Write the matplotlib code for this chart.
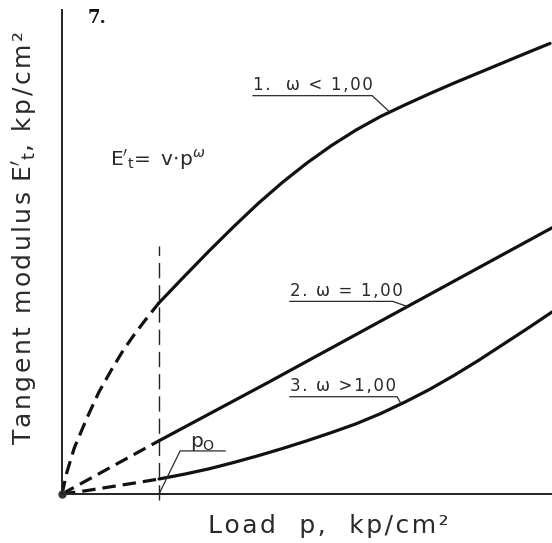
import numpy as np
import matplotlib
matplotlib.use("Agg")
import matplotlib.pyplot as plt

plt.rcParams['font.family'] = ['DejaVu Sans']
plt.rcParams['mathtext.fontset'] = 'dejavusans'

# ---- data (load p and tangent modulus, arbitrary units) ----
p0 = 1.98
curve1_p = [0.0, 0.1, 0.25, 0.5, 0.75, 1.0, 1.25, 1.5, 1.75, 1.98, 2.5, 3.0, 3.5, 4.0, 4.5,
            5.0, 5.5, 6.0, 6.5, 7.0, 7.5, 8.0, 8.5, 9.0, 9.5, 9.96]
curve1_E = [0.0, 0.45, 0.95, 1.55, 2.10, 2.55, 2.97, 3.33, 3.66, 3.95, 4.50, 5.02, 5.52, 6.00, 6.44,
            6.84, 7.20, 7.52, 7.80, 8.04, 8.27, 8.49, 8.70, 8.91, 9.12, 9.31]
curve2_p = [0.0, 1.98, 4.18, 8.53, 10.0]
curve2_E = [0.0, 1.10, 2.29, 4.69, 5.50]
curve3_p = [0.0, 0.5, 1.0, 1.5, 1.98, 2.5, 3.0, 3.5, 4.0, 4.5, 5.0, 5.5, 6.0, 6.5, 7.0,
            7.5, 8.0, 8.5, 9.0, 9.5, 10.0]
curve3_E = [0.0, 0.07, 0.15, 0.23, 0.31, 0.41, 0.52, 0.65, 0.79, 0.94, 1.10, 1.27, 1.45, 1.66, 1.90,
            2.16, 2.45, 2.76, 3.09, 3.42, 3.76]
labels = ["1.  ω < 1,00", "2. ω = 1,00", "3. ω >1,00"]
y_title = "Tangent modulus $\\mathregular{E}'_\\mathregular{t}$, kp/cm²"
x_title = "Load  p,  kp/cm²"


def spaced(s, sp):
    """Insert a narrow space between characters outside mathtext segments (letter spacing)."""
    parts = s.split('$')
    out = []
    for i, seg in enumerate(parts):
        if i % 2 == 0:
            out.append(sp.join(seg))
        else:
            out.append('$' + seg + '$')
    return ''.join(out)


fig = plt.figure(figsize=(5.52, 5.43), dpi=100)
ax = fig.add_axes([62/552, 49/543, 490/552, 484/543])
ax.set_xlim(0, 10)
ax.set_ylim(0, 10)
for s in ['top', 'right']:
    ax.spines[s].set_visible(False)
for s in ['left', 'bottom']:
    ax.spines[s].set_linewidth(1.4)
    ax.spines[s].set_color('#222222')
ax.set_xticks([])
ax.set_yticks([])

lw = 2.3
for cp, cE in [(curve1_p, curve1_E), (curve2_p, curve2_E), (curve3_p, curve3_E)]:
    cp = np.array(cp); cE = np.array(cE)
    m_d = cp <= p0 + 1e-9
    m_s = cp >= p0 - 1e-9
    l, = ax.plot(cp[m_d], cE[m_d], color='#111111', lw=lw, solid_capstyle='butt')
    l.set_dashes((4.2, 2.2))
    ax.plot(cp[m_s], cE[m_s], color='#111111', lw=lw, solid_capstyle='round',
            solid_joinstyle='round', clip_on=False)

# small dark blob at the origin where the curves meet
ax.plot([0], [0], marker='o', ms=5, color='#333333', clip_on=False)

# vertical dashed line at p0
vl, = ax.plot([p0, p0], [-0.12, 5.12], color='#222222', lw=1.0, clip_on=False)
vl.set_dashes((11, 5))

tc = '#2a2a2a'
fs = 12
HS = '\u200a'


def label(text, x, y, x_end, p_leader, cp, cE):
    ax.text(x, y, spaced(text, HS), fontsize=fs, color=tc, ha='left', va='baseline')
    uy = y - 0.12
    Ey = np.interp(p_leader, cp, cE)
    ax.plot([x, x_end, p_leader], [uy, uy, Ey], color=tc, lw=0.9)


label(labels[0], 3.90, 8.35, 6.33, 6.69, curve1_p, curve1_E)
label(labels[1], 4.65, 4.10, 6.75, 7.05, curve2_p, curve2_E)
label(labels[2], 4.65, 2.13, 6.84, 6.92, curve3_p, curve3_E)

# p0 label
ax.text(2.62, 0.97, r"p$_\mathregular{O}$", fontsize=fs + 2.5, color=tc, ha='left', va='baseline')
ax.plot([p0, 2.41, 3.33], [0, 0.89, 0.89], color=tc, lw=0.9)

# formula
ax.text(0.98, 6.78, spaced("$\\mathregular{E}'_\\mathregular{t}$= v", HS) + r"$\cdot$p$^\omega$",
        fontsize=fs + 2.5, color=tc, ha='left', va='baseline')

fig.text(25/552, 1 - 238/543, spaced(y_title, HS), rotation=90,
         fontsize=18, color=tc, ha='center', va='center')
fig.text(208/552, 1 - 533/543, spaced(x_title, HS),
         fontsize=18, color=tc, ha='left', va='baseline')
fig.text(88/552, 1 - 23/543, "7.", fontsize=13, color='#111111', family='DejaVu Serif',
         weight='bold', ha='left', va='baseline')

fig.savefig("out.png", dpi=100)
